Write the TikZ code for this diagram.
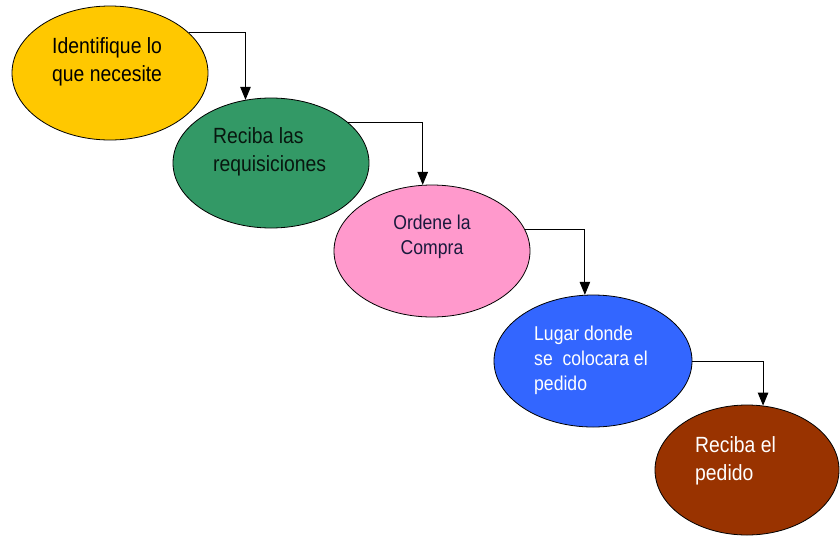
\documentclass[tikz,border=0pt]{standalone}
\usepackage{fontspec}
\setmainfont[FakeStretch=0.88]{Liberation Sans}
\usetikzlibrary{shapes.geometric,arrows.meta}
\definecolor{cyellow}{RGB}{255,200,0}
\definecolor{cgreen}{RGB}{51,153,102}
\definecolor{cpink}{RGB}{255,153,204}
\definecolor{cblue}{RGB}{51,102,255}
\definecolor{cbrown}{RGB}{153,51,0}
\definecolor{cnavy}{RGB}{25,25,60}
\tikzset{
  ell/.style={ellipse, draw=black, line width=0.8pt, inner sep=0pt},
  lbl/.style={anchor=west, align=left, inner sep=0pt},
  big/.style={font=\fontsize{22}{28}\selectfont},
  small/.style={font=\fontsize{20}{25}\selectfont},
  arr/.style={draw=black, line width=1pt, -{Triangle[length=13pt,width=10.5pt]}}
}
\begin{document}
\begin{tikzpicture}[x=1pt,y=-1pt]
\useasboundingbox (0,0) rectangle (840,536);
\node[ell, fill=cyellow, minimum width=196pt, minimum height=134pt] (e1) at (110,73) {};
\node[ell, fill=cgreen, minimum width=196pt, minimum height=130pt] (e2) at (271,163) {};
\node[ell, fill=cpink, minimum width=196pt, minimum height=132pt] (e3) at (432,251) {};
\node[ell, fill=cblue, minimum width=198pt, minimum height=132pt] (e4) at (593,361) {};
\node[ell, fill=cbrown, minimum width=184pt, minimum height=130pt] (e5) at (747,470) {};

\node[lbl, big, text=black] (t1) at (52,62) {Identifique lo\\que necesite};
\node[lbl, big, text=black!85!cgreen] (t2) at (213,152) {Reciba las\\requisiciones};
\node[small, align=center, inner sep=0pt, text=cnavy] (t3) at (432,237) {Ordene la\\Compra};
\node[lbl, small, text=white] (t4) at (534,360) {Lugar donde\\se\ \ colocara el\\pedido};
\node[lbl, big, text=white] (t5) at (695,461) {Reciba el\\pedido};

\draw[arr] (e1.27) -| (e2.112);
\draw[arr] (e2.28) -| (e3.98);
\draw[arr] (e3.13) -| (e4.97);
\draw[arr] (e4.0) -| (e5.76);
\end{tikzpicture}
\end{document}
